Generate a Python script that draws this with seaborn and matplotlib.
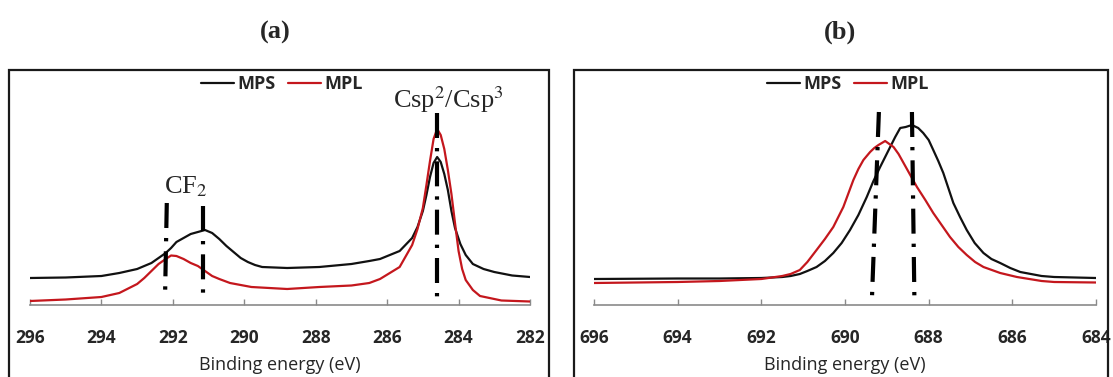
import pandas as pd
import seaborn as sns
import matplotlib.pyplot as plt
from matplotlib.patches import Rectangle

# C 1s spectra (panel a), binding energy (eV) and intensity (a.u.)
c1s_mps_x = [296.0, 295.0, 294.0, 293.5, 293.0, 292.8, 292.6, 292.4, 292.2, 292.05, 291.9,
             291.7, 291.5, 291.3, 291.1, 290.9, 290.7, 290.5, 290.3, 290.1, 289.9, 289.7,
             289.5, 288.8, 287.9, 287.0, 286.5, 286.2, 285.65, 285.3, 285.15, 285.0, 284.9,
             284.8, 284.7, 284.6, 284.5, 284.4, 284.3, 284.2, 284.1, 283.95, 283.8, 283.6,
             283.3, 283.0, 282.5, 282.0]
c1s_mps_y = [27, 27.5, 29, 32, 36, 39, 42, 47, 52, 57, 63,
             67, 71, 73, 75, 72, 66, 59, 53, 47, 43, 40,
             38, 37, 38, 41, 44, 46, 54, 67, 78, 94, 110,
             128, 142, 148, 143, 131, 115, 94, 77, 61, 50, 41,
             36, 33, 29.5, 28]
c1s_mpl_x = [296.0, 295.0, 294.0, 293.5, 293.0, 292.8, 292.6, 292.4, 292.2, 292.05, 291.9,
             291.7, 291.5, 291.3, 291.1, 290.9, 290.7, 290.4, 290.1, 289.8, 288.8, 287.9,
             287.0, 286.5, 286.2, 285.65, 285.3, 285.15, 285.0, 284.9, 284.8, 284.7, 284.6,
             284.5, 284.4, 284.3, 284.2, 284.1, 284.0, 283.9, 283.8, 283.6, 283.4, 282.8,
             282.0]
c1s_mpl_y = [4, 5.5, 8, 12, 21, 27, 34, 41, 46, 49.5, 49,
             46, 42, 39, 34, 29, 26, 22, 20, 18, 16, 18,
             19.5, 22, 26, 38, 60, 76, 97, 120, 144, 166, 176,
             170, 156, 135, 111, 82, 54, 36, 25, 15, 9, 4.5,
             3.5]

# F 1s spectra (panel b)
f1s_mps_x = [696.0, 694.0, 693.0, 692.0, 691.5, 691.3, 691.08, 690.9, 690.68, 690.48,
             690.28, 690.08, 689.88, 689.68, 689.48, 689.32, 689.16, 689.04, 688.92, 688.8,
             688.68, 688.55, 688.4, 688.25, 688.13, 688.0, 687.89, 687.77, 687.65, 687.53,
             687.41, 687.25, 687.09, 686.9, 686.69, 686.5, 686.29, 686.05, 685.81, 685.3,
             685.0, 684.0]
f1s_mps_y = [26, 26.5, 26.5, 27, 28, 29, 31, 34, 38, 44,
             52, 62, 75, 90, 108, 124, 138, 148, 158, 168,
             177, 178, 180, 177, 172, 165, 155, 144, 132, 117,
             102, 88, 75, 62, 52, 46, 42, 37, 33, 29,
             28, 27]
f1s_mpl_x = [696.0, 694.0, 693.0, 692.0, 691.5, 691.3, 691.08, 690.9, 690.68, 690.48,
             690.28, 690.16, 690.04, 689.8, 689.68, 689.56, 689.4, 689.3, 689.2, 689.04,
             688.84, 688.72, 688.6, 688.44, 688.28, 688.08, 687.89, 687.69, 687.49, 687.29,
             687.09, 686.89, 686.69, 686.49, 686.29, 686.09, 685.89, 685.3, 685.0, 684.0]
f1s_mpl_y = [22, 23, 24, 26, 29, 31, 35, 43, 55, 66,
             78, 88, 98, 125, 136, 145, 153, 157, 160, 164,
             158, 151, 142, 130, 118, 105, 92, 80, 68, 58,
             50, 43, 38, 35, 32, 30, 28, 24, 23, 22.5]

# peak markers: (x top, x bottom, y top, y bottom)
marks_a = [(292.17, 292.22, 102, 6), (291.16, 291.16, 99, 4), (284.6, 284.6, 192, 1)]
marks_b = [(689.19, 689.36, 193, 2), (688.40, 688.34, 193, 2)]

ticks_a = [296, 294, 292, 290, 288, 286, 284, 282]
ticks_b = [696, 694, 692, 690, 688, 686, 684]

sns.set_theme(style='white')
plt.rcParams['mathtext.fontset'] = 'stix'

W, H = 1113, 377
fig = plt.figure(figsize=(W / 100, H / 100), dpi=100)

palette = {'MPS': '#111111', 'MPL': '#c4171d'}


def make_panel(rect, xs, ys, marks, ticks, xlim, legend_x, title, title_x):
    ax = fig.add_axes(rect)
    frames = []
    for name, x, y in zip(['MPS', 'MPL'], xs, ys):
        frames.append(pd.DataFrame({'energy': x, 'intensity': y, 'sample': name}))
    df = pd.concat(frames)
    sns.lineplot(data=df, x='energy', y='intensity', hue='sample', palette=palette,
                 sort=False, estimator=None, linewidth=1.6, ax=ax)
    for xt, xb, yt, yb in marks:
        ax.plot([xt, xb], [yt, yb], color='black', linewidth=3.0,
                linestyle=(0, (6.0, 2.4, 0.8, 2.4)), solid_capstyle='butt',
                dash_capstyle='butt')
    ax.set_xlim(xlim)
    ax.set_ylim(0, 235)
    ax.set_yticks([])
    ax.set_xticks(ticks)
    ax.set_xticklabels([str(t) for t in ticks], fontfamily='Open Sans',
                       fontweight='bold', fontsize=12.5)
    for s in ['top', 'right', 'left']:
        ax.spines[s].set_visible(False)
    ax.spines['bottom'].set_color('#8a8a8a')
    ax.spines['bottom'].set_linewidth(1.2)
    ax.tick_params(axis='x', direction='in', length=4, width=1, color='#8a8a8a',
                   pad=17, bottom=True)
    ax.set_xlabel('Binding energy (eV)', fontfamily='Open Sans', fontsize=13,
                  labelpad=7)
    ax.set_ylabel('')
    ax.patch.set_alpha(0)
    ax.legend(loc='center', bbox_to_anchor=(legend_x / W, 1 - 84 / H),
              bbox_transform=fig.transFigure, ncol=2, frameon=False,
              handlelength=1.8, handletextpad=0.2, columnspacing=0.7,
              prop={'family': 'Open Sans', 'weight': 'bold', 'size': 13})
    fig.text(title_x / W, 1 - 32 / H, title, ha='center', va='center',
             fontfamily='Liberation Serif', fontweight='bold', fontsize=19)
    return ax


ax_a = make_panel([30 / W, 72 / H, 500 / W, 235 / H], [c1s_mps_x, c1s_mpl_x],
                  [c1s_mps_y, c1s_mpl_y], marks_a, ticks_a, (296, 282), 282, '(a)', 275)
ax_b = make_panel([594 / W, 72 / H, 502 / W, 235 / H], [f1s_mps_x, f1s_mpl_x],
                  [f1s_mps_y, f1s_mpl_y], marks_b, ticks_b, (696, 684), 848, '(b)', 840)

ax_a.text(291.64, 112, 'CF$_2$', ha='center', va='baseline',
          fontfamily='Liberation Serif', fontsize=19)
ax_a.text(284.29, 197, 'Csp$^2$/Csp$^3$', ha='center', va='baseline',
          fontfamily='Liberation Serif', fontsize=19)

# panel frames
for x0, x1 in [(9, 549), (574, 1108)]:
    fig.patches.append(Rectangle((x0 / W, -0.2), (x1 - x0) / W, 0.2 + (H - 70) / H,
                                 transform=fig.transFigure, fill=False,
                                 edgecolor='#1a1a1a', linewidth=1.6))

fig.savefig('out.png', dpi=100)
